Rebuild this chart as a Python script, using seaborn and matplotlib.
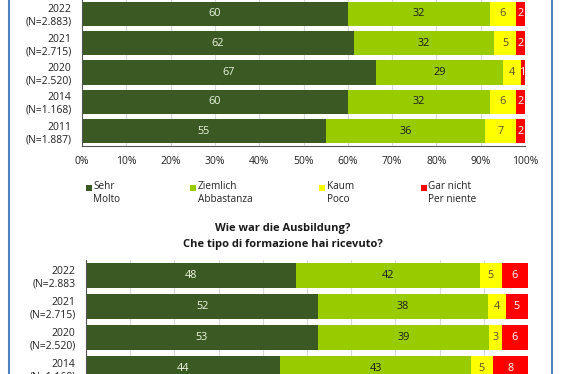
import numpy as np
import pandas as pd
import matplotlib.pyplot as plt
import seaborn as sns
from matplotlib.lines import Line2D
from matplotlib.patches import Rectangle
from matplotlib.ticker import PercentFormatter

# -----------------------------------
# DATA
# -----------------------------------

answers_de = ["Sehr", "Ziemlich", "Kaum", "Gar nicht"]
answers_it = ["Molto", "Abbastanza", "Poco", "Per niente"]

top_rows = ["2022\n(N=2.883)", "2021\n(N=2.715)", "2020\n(N=2.520)",
            "2014\n(N=1.168)", "2011\n(N=1.887)"]
top_sehr = [60, 62, 67, 60, 55]
top_ziemlich = [32, 32, 29, 32, 36]
top_kaum = [6, 5, 4, 6, 7]
top_gar_nicht = [2, 2, 1, 2, 2]

bottom_title = "Wie war die Ausbildung?\nChe tipo di formazione hai ricevuto?"
bottom_rows = ["2022\n(N=2.883", "2021\n(N=2.715)", "2020\n(N=2.520)",
               "2014\n(N=1.168)"]
bottom_sehr = [48, 52, 53, 44]
bottom_ziemlich = [42, 38, 39, 43]
bottom_kaum = [5, 4, 3, 5]
bottom_gar_nicht = [6, 5, 6, 8]

colors = ["#3b5a23", "#99cc00", "#ffff00", "#ff0000"]
label_colors = ["#eef4e2", "#1a1a1a", "#555522", "#ffffff"]

W, H = 562, 374


def fx(px):
    return px / W


def fy(py):
    return 1 - py / H


def draw_stacked(ax, rows, series, show_xlabels=True):
    df = pd.DataFrame(dict(zip(answers_de, series)), index=rows)
    shares = df.div(df.sum(axis=1), axis=0) * 100
    cum = shares.cumsum(axis=1)

    # layered cumulative bars, widest first
    for k in reversed(range(len(answers_de))):
        sns.barplot(
            x=cum.iloc[:, k].values,
            y=rows,
            order=rows,
            orient="h",
            color=colors[k],
            saturation=1,
            width=0.82,
            linewidth=0,
            errorbar=None,
            ax=ax
        )

    for i, row in enumerate(rows):
        for k, name in enumerate(answers_de):
            left = cum.iloc[i, k] - shares.iloc[i, k]
            ax.text(left + shares.iloc[i, k] / 2, i, str(df.loc[row, name]),
                    ha="center", va="center", fontsize=7.8,
                    color=label_colors[k])

    n = len(rows)
    ax.set_xlim(0, 100)
    ax.set_ylim(n - 0.5, -0.5)
    ax.set_xticks(np.arange(0, 101, 10))
    ax.xaxis.set_major_formatter(PercentFormatter(decimals=0))
    ax.set_yticks(np.arange(-0.5, n, 1), minor=True)
    ax.tick_params(axis="y", which="major", length=0, pad=7.5,
                   labelsize=7.5, labelcolor="#222222")
    ax.tick_params(axis="y", which="minor", length=3, color="#555555")
    ax.tick_params(axis="x", length=3, pad=4, labelsize=7.5,
                   labelcolor="#222222", color="#555555",
                   labelbottom=show_xlabels)
    ax.set_xlabel("")
    ax.set_ylabel("")
    ax.xaxis.grid(True, color="#d9d9d9", linewidth=0.8)
    ax.set_axisbelow(True)
    for side in ["top", "right"]:
        ax.spines[side].set_visible(False)
    for side in ["left", "bottom"]:
        ax.spines[side].set_color("#555555")
        ax.spines[side].set_linewidth(0.8)


def main():
    sns.set_style("white")
    plt.rcParams["font.family"] = ["Open Sans", "DejaVu Sans"]

    fig = plt.figure(figsize=(W / 100, H / 100), dpi=100)

    # top chart (top edge cut off in the reference)
    ax_top = fig.add_axes([fx(82), fy(146), fx(525) - fx(82), fy(-1) - fy(146)])
    draw_stacked(ax_top, top_rows,
                 [top_sehr, top_ziemlich, top_kaum, top_gar_nicht])

    # bottom chart (bottom edge cut off in the reference)
    ax_bot = fig.add_axes([fx(86), fy(384), fx(528) - fx(86), fy(260) - fy(384)])
    draw_stacked(ax_bot, bottom_rows,
                 [bottom_sehr, bottom_ziemlich, bottom_kaum, bottom_gar_nicht],
                 show_xlabels=False)

    # legend
    square_x = [86, 190, 319, 421]
    for k in range(len(answers_de)):
        fig.add_artist(Rectangle((fx(square_x[k]), fy(190.5)), fx(6), 6 / H,
                                 transform=fig.transFigure,
                                 facecolor=colors[k], edgecolor="none"))
        fig.text(fx(square_x[k] + 7.5), fy(186.5), answers_de[k],
                 ha="left", va="center", fontsize=7.2, color="#222222")
        fig.text(fx(square_x[k] + 7.5), fy(199), answers_it[k],
                 ha="left", va="center", fontsize=7.2, color="#222222")

    fig.text(fx(283), fy(236.5), bottom_title, ha="center", va="center",
             fontsize=8, fontweight="bold", color="#1a1a1a", linespacing=1.5)

    # blue frame on the sides
    for px in [9, 552]:
        fig.add_artist(Line2D([fx(px), fx(px)], [0, 1], color="#4f81bd",
                              linewidth=1.5, transform=fig.transFigure))

    fig.savefig("out.png", dpi=100)


if __name__ == "__main__":
    main()
